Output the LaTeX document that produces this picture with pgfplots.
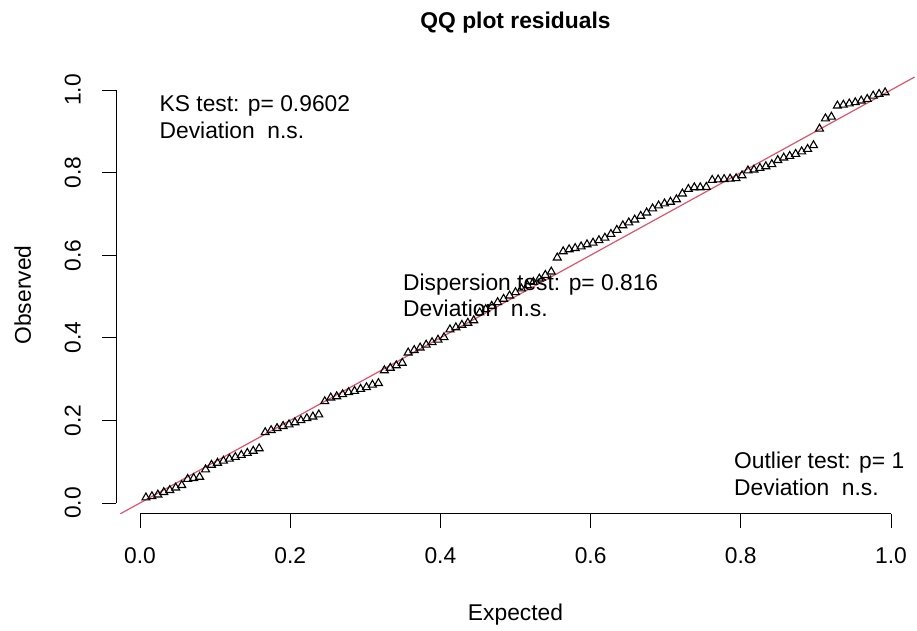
\documentclass[border=0pt]{standalone}
\usepackage{pgfplots}
\usepackage{pgfplotstable}
\pgfplotsset{compat=1.18}
\usepackage{fontspec}
\setmainfont{Liberation Sans}
\definecolor{ablinered}{HTML}{DF536B}
\newcommand{\lbl}{\fontsize{22.8}{27}\selectfont}

% sorted scaled residuals (observed) against uniform expectation i/(n+1)
\pgfplotstableread{
x      y
0.0079 0.013
0.0159 0.016
0.0238 0.020
0.0317 0.026
0.0397 0.031
0.0476 0.037
0.0556 0.043
0.0635 0.058
0.0714 0.060
0.0794 0.063
0.0873 0.081
0.0952 0.092
0.1032 0.097
0.1111 0.102
0.1190 0.107
0.1270 0.111
0.1349 0.116
0.1429 0.121
0.1508 0.126
0.1587 0.132
0.1667 0.171
0.1746 0.176
0.1825 0.181
0.1905 0.186
0.1984 0.190
0.2063 0.195
0.2143 0.200
0.2222 0.205
0.2302 0.209
0.2381 0.214
0.2460 0.246
0.2540 0.255
0.2619 0.258
0.2698 0.263
0.2778 0.268
0.2857 0.271
0.2937 0.276
0.3016 0.280
0.3095 0.286
0.3175 0.290
0.3254 0.321
0.3333 0.327
0.3413 0.333
0.3492 0.339
0.3571 0.364
0.3651 0.370
0.3730 0.376
0.3810 0.383
0.3889 0.389
0.3968 0.395
0.4048 0.401
0.4127 0.420
0.4206 0.425
0.4286 0.431
0.4365 0.436
0.4444 0.442
0.4524 0.461
0.4603 0.469
0.4683 0.477
0.4762 0.486
0.4841 0.494
0.4921 0.502
0.5000 0.510
0.5079 0.519
0.5159 0.527
0.5238 0.535
0.5317 0.543
0.5397 0.552
0.5476 0.560
0.5556 0.594
0.5635 0.609
0.5714 0.614
0.5794 0.617
0.5873 0.621
0.5952 0.626
0.6032 0.630
0.6111 0.636
0.6190 0.642
0.6270 0.651
0.6349 0.661
0.6429 0.672
0.6508 0.679
0.6587 0.686
0.6667 0.695
0.6746 0.703
0.6825 0.713
0.6905 0.720
0.6984 0.725
0.7063 0.729
0.7143 0.735
0.7222 0.749
0.7302 0.760
0.7381 0.764
0.7460 0.764
0.7540 0.765
0.7619 0.782
0.7698 0.783
0.7778 0.784
0.7857 0.785
0.7937 0.786
0.8016 0.793
0.8095 0.805
0.8175 0.807
0.8254 0.811
0.8333 0.815
0.8413 0.820
0.8492 0.830
0.8571 0.836
0.8651 0.840
0.8730 0.845
0.8810 0.851
0.8889 0.857
0.8968 0.866
0.9048 0.906
0.9127 0.931
0.9206 0.935
0.9286 0.962
0.9365 0.964
0.9444 0.967
0.9524 0.970
0.9603 0.974
0.9683 0.978
0.9762 0.986
0.9841 0.990
0.9921 0.994
}\qqdata

\begin{document}
\begin{tikzpicture}[x=1pt,y=1pt]
\useasboundingbox (0,0) rectangle (917,630);
\begin{axis}[
  at={(116.4pt,116.2pt)}, anchor=south west,
  scale only axis, width=798.2pt, height=437.5pt,
  xmin=-0.0314, xmax=1.0314, ymin=-0.0262, ymax=1.0332,
  hide axis, clip=false,
]
% 1:1 reference line across the plotting region
\addplot[ablinered, line width=1.2pt] coordinates {(-0.0262,-0.0262) (1.0314,1.0314)};
\addplot[only marks, mark=triangle, mark size=4.6pt,
  mark options={draw=black, line width=1.1pt, fill=none}] table[x=x,y=y] {\qqdata};
\end{axis}

% R-style axes: lines span first to last tick only
\draw[line width=0.9pt] (140,116.2) -- (891,116.2);
\draw[line width=0.9pt] (116.4,127) -- (116.4,540);
\foreach \v/\t in {0/0.0,0.2/0.2,0.4/0.4,0.6/0.6,0.8/0.8,1/1.0}{
  \draw[line width=0.9pt] (140+751*\v,116.2) -- ++(0,-14);
  \draw[line width=0.9pt] (116.4,127+413*\v) -- ++(-14,0);
  \node[anchor=base, inner sep=0pt, font=\lbl] at (140+751*\v, 66.5) {\t};
  \node[anchor=base, inner sep=0pt, rotate=90, font=\lbl] at (80.5, 127+413*\v) {\t};
}

% titles
\node[anchor=base, inner sep=0pt, font=\lbl\bfseries] at (515.5, 601.5) {QQ plot residuals};
\node[anchor=base, inner sep=0pt, font=\lbl] at (515.5, 10) {Expected};
\node[anchor=base, inner sep=0pt, rotate=90, font=\lbl] at (31, 335) {Observed};

% test results
\node[anchor=base west, inner sep=0pt, font=\lbl] at (159.5, 518) {KS test: p= 0.9602};
\node[anchor=base west, inner sep=0pt, font=\lbl] at (159.5, 491.5) {Deviation\ \ n.s.};
\node[anchor=base west, inner sep=0pt, font=\lbl] at (403, 340) {Dispersion test: p= 0.816};
\node[anchor=base west, inner sep=0pt, font=\lbl] at (403, 313.5) {Deviation\ \ n.s.};
\node[anchor=base west, inner sep=0pt, font=\lbl] at (734, 161.5) {Outlier test: p= 1};
\node[anchor=base west, inner sep=0pt, font=\lbl] at (734, 135) {Deviation\ \ n.s.};
\end{tikzpicture}
\end{document}
